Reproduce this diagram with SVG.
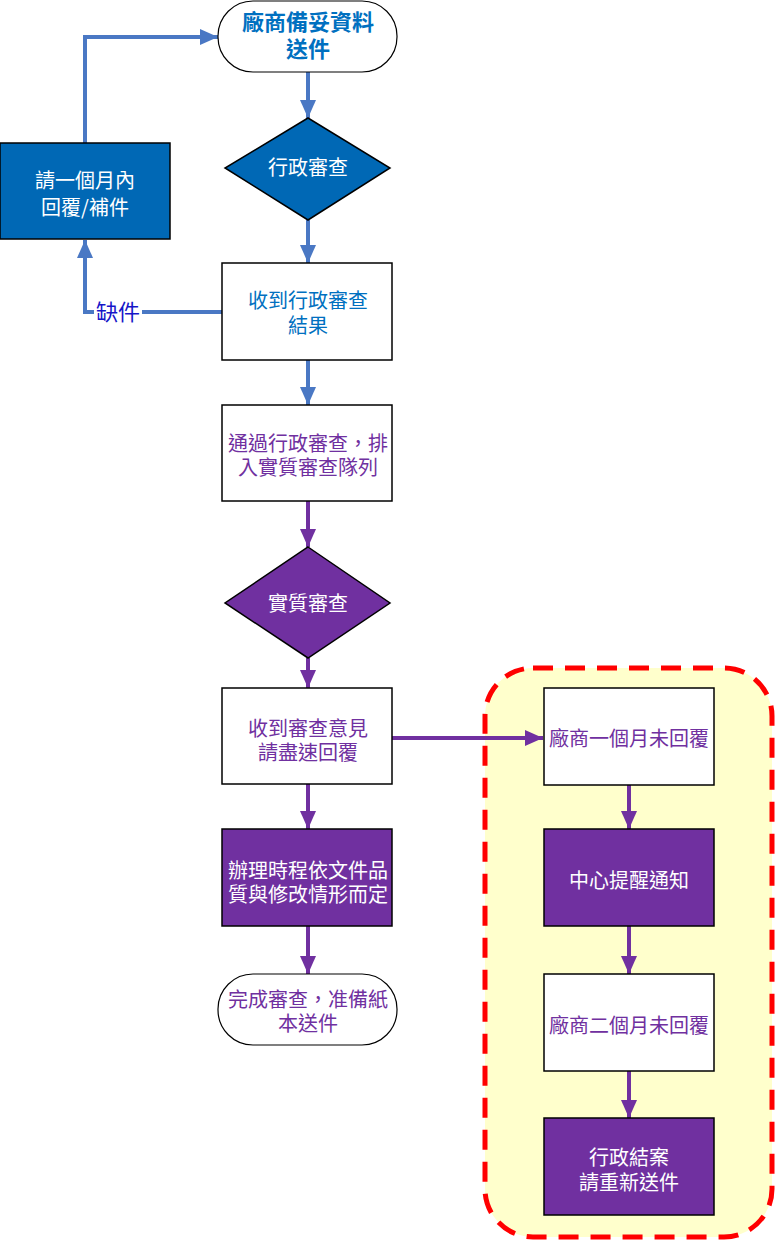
<svg xmlns="http://www.w3.org/2000/svg" width="776" height="1243" viewBox="0 0 776 1243">
<style>
text{font-family:"Noto Sans CJK TC","Noto Sans CJK SC",sans-serif;font-size:20px;text-anchor:middle}
.box{fill:#fff;stroke:#000;stroke-width:1.5}
.pbox{fill:#7030A0;stroke:#000;stroke-width:1.5}
.bbox{fill:#0068B5;stroke:#000;stroke-width:1.5}
.term{fill:#fff;stroke:#000;stroke-width:1.2}
.wt{fill:#fff}
.bt{fill:#0070C0}
.pt{fill:#7030A0}
.bl{stroke:#4A78C4;stroke-width:4;fill:none}
.pl{stroke:#7030A0;stroke-width:4;fill:none}
</style>
<defs>
<marker id="ab" markerWidth="4.5" markerHeight="4" refX="4.5" refY="2" orient="auto" markerUnits="strokeWidth"><path d="M0,0L4.5,2L0,4z" fill="#4A78C4"/></marker>
<marker id="ap" markerWidth="4.5" markerHeight="4" refX="4.5" refY="2" orient="auto" markerUnits="strokeWidth"><path d="M0,0L4.5,2L0,4z" fill="#7030A0"/></marker>
</defs>
<rect x="485" y="668" width="287" height="569" rx="48" fill="#FFFFCC" stroke="#FF0000" stroke-width="5" stroke-dasharray="20 12"/>
<g id="connectors">
<path class="bl" d="M308,72V118" marker-end="url(#ab)"/>
<path class="bl" d="M308,220V263" marker-end="url(#ab)"/>
<path class="bl" d="M308,360V405" marker-end="url(#ab)"/>
<path class="bl" d="M222,312H85V240" marker-end="url(#ab)"/>
<path class="bl" d="M85,143V37H218" marker-end="url(#ab)"/>
<path class="pl" d="M308,501V547" marker-end="url(#ap)"/>
<path class="pl" d="M308,658V688" marker-end="url(#ap)"/>
<path class="pl" d="M308,784V829" marker-end="url(#ap)"/>
<path class="pl" d="M308,926V974" marker-end="url(#ap)"/>
<path class="pl" d="M392,738H543" marker-end="url(#ap)"/>
<path class="pl" d="M629,785V829" marker-end="url(#ap)"/>
<path class="pl" d="M629,926V974" marker-end="url(#ap)"/>
<path class="pl" d="M629,1071V1118" marker-end="url(#ap)"/>
<rect x="94" y="299" width="48" height="27" fill="#fff"/>
<text x="118" y="320" style="font-size:22px;fill:#1515C8">缺件</text>
</g>
<g id="n1"><rect class="term" x="218" y="1" width="179" height="71" rx="35"/><text class="bt" x="308" y="30" style="font-size:22px;font-weight:bold">廠商備妥資料</text><text class="bt" x="308" y="57" style="font-size:22px;font-weight:bold">送件</text></g>
<g id="n2"><path class="bbox" d="M308,118L390,168L308,220L225,168z"/><text class="wt" x="308" y="175">行政審查</text></g>
<g id="n3"><rect class="bbox" x="0" y="143" width="170" height="96"/><text class="wt" x="85" y="188">請一個月內</text><text class="wt" x="85" y="215">回覆/補件</text></g>
<g id="n4"><rect class="box" x="222" y="263" width="170" height="97"/><text class="bt" x="308" y="308">收到行政審查</text><text class="bt" x="308" y="333">結果</text></g>
<g id="n5"><rect class="box" x="222" y="405" width="170" height="96"/><text class="pt" x="308" y="451">通過行政審查，排</text><text class="pt" x="308" y="475">入實質審查隊列</text></g>
<g id="n6"><path class="pbox" d="M308,547L390,603L308,658L225,603z"/><text class="wt" x="308" y="611">實質審查</text></g>
<g id="n7"><rect class="box" x="222" y="688" width="170" height="96"/><text class="pt" x="308" y="736">收到審查意見</text><text class="pt" x="308" y="760">請盡速回覆</text></g>
<g id="n8"><rect class="pbox" x="222" y="829" width="170" height="97"/><text class="wt" x="308" y="878">辦理時程依文件品</text><text class="wt" x="308" y="902">質與修改情形而定</text></g>
<g id="n9"><rect class="term" x="218" y="974" width="179" height="71" rx="35"/><text class="pt" x="308" y="1007">完成審查，准備紙</text><text class="pt" x="308" y="1031">本送件</text></g>
<g id="n10"><rect class="box" x="544" y="688" width="170" height="97"/><text class="pt" x="629" y="746">廠商一個月未回覆</text></g>
<g id="n11"><rect class="pbox" x="544" y="829" width="170" height="97"/><text class="wt" x="629" y="888">中心提醒通知</text></g>
<g id="n12"><rect class="box" x="544" y="974" width="170" height="97"/><text class="pt" x="629" y="1033">廠商二個月未回覆</text></g>
<g id="n13"><rect class="pbox" x="544" y="1118" width="170" height="97"/><text class="wt" x="629" y="1165">行政結案</text><text class="wt" x="629" y="1190">請重新送件</text></g>
</svg>
